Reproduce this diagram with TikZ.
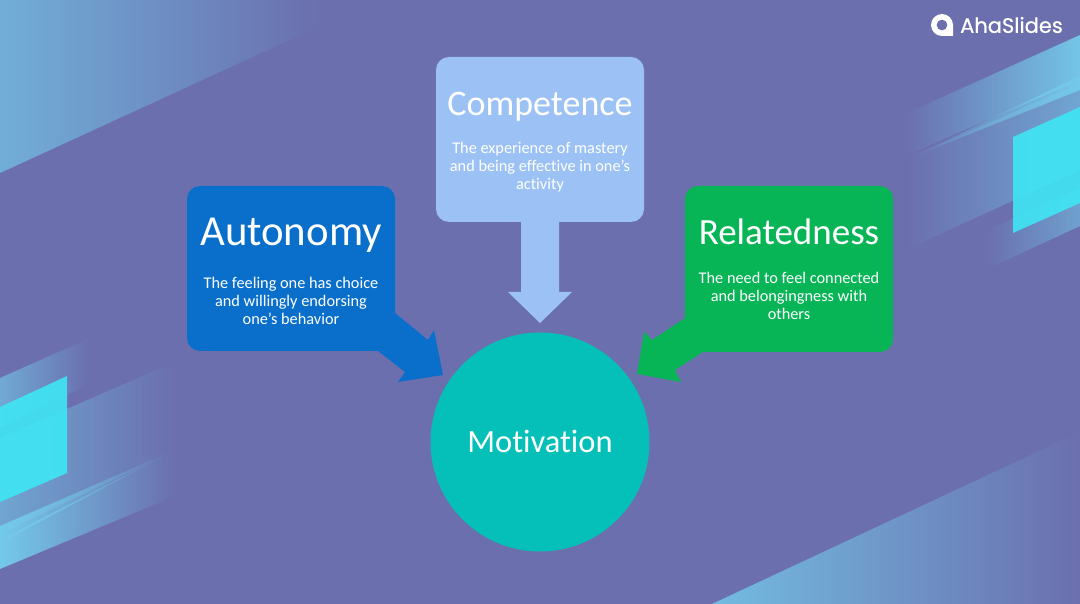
\documentclass[tikz,border=0pt]{standalone}
\usepackage{fontspec}
\setmainfont[Ligatures=NoCommon]{Carlito}
\newfontfamily\logofont[FakeBold=0.5]{Poppins}
\usetikzlibrary{fadings}
\definecolor{bgc}{HTML}{6B6FAE}
\definecolor{autoc}{HTML}{0A6FCB}
\definecolor{compc}{HTML}{9CC2F5}
\definecolor{relc}{HTML}{08B556}
\definecolor{motc}{HTML}{05C0B8}
\definecolor{cyanc}{HTML}{3FE6F5}
\definecolor{bandc}{HTML}{74CAEA}
\tikzset{
  bandE/.style={fill=bandc,path fading=east},
  bandW/.style={fill=bandc,path fading=west},
  title/.style={text=white,font=\fontsize{#1}{44}\selectfont,anchor=center},
  desc/.style={text=white,font=\fontsize{16.3}{18}\selectfont,align=center,anchor=center},
}
\begin{document}
\begin{tikzpicture}[x=1pt,y=-1pt]
\useasboundingbox (0,0) rectangle (1080,604);
\fill[bgc] (0,0) rectangle (1080,604);
% decorative bands
\fill[bandE,opacity=.7] (0,0) -- (320,0) -- (320,26) -- (0,173) -- cycle;
\fill[bandW,opacity=.95] (1080,35) -- (905,114) -- (905,156) -- (1080,80) -- cycle;
\fill[bandW,opacity=.6] (1080,83) -- (905,160) -- (905,250) -- (1080,170) -- cycle;
\fill[bandW,opacity=1] (1080,76) -- (1080,90) -- (905,160) -- cycle;
\fill[bandW,opacity=.55] (1080,188) -- (985,231) -- (985,270) -- (1080,226) -- cycle;
\fill[cyanc,opacity=.9] (1013,137) -- (1080,107) -- (1080,203) -- (1013,233) -- cycle;
\fill[bandE,opacity=.65] (0,378) -- (90,338) -- (90,384) -- (0,427) -- cycle;
\fill[bandE,opacity=.6] (0,438) -- (175,362) -- (175,450) -- (0,534) -- cycle;
\fill[bandE,opacity=1] (0,540) -- (175,450) -- (175,496) -- (0,569) -- cycle;
\fill[bandE,opacity=1] (0,526) -- (0,543) -- (175,450) -- cycle;
\fill[cyanc,opacity=.9] (0,407) -- (67,376) -- (67,473) -- (0,502) -- cycle;
\fill[bandE,opacity=.85] (712,604) -- (1080,432) -- (1080,604) -- cycle;
% shapes
\fill[autoc,rounded corners=13pt] (187,186) -- (395,186) -- (395,351) -- (187,351) -- cycle;
\fill[autoc] (370,330) -- (395,313) -- (428,340) -- (434,330) -- (443,375) -- (398,382) -- (405,372) -- (378,351) -- cycle;
\fill[compc,rounded corners=13pt] (436,57) -- (644,57) -- (644,222) -- (436,222) -- cycle;
\fill[compc] (521,215) -- (559,215) -- (559,292) -- (572,292) -- (540,323) -- (508,292) -- (521,292) -- cycle;
\fill[relc,rounded corners=13pt] (685,186) -- (893,186) -- (893,352) -- (685,352) -- cycle;
\fill[relc] (710,330) -- (685,318) -- (652,340) -- (644,332) -- (637,374) -- (681,382) -- (675,370) -- (703,352) -- cycle;
\node[circle,fill=motc,minimum size=219pt,inner sep=0pt] (mot) at (540,442) {};
% text
\node[title=42.8] (ta) at (291,235) {Autonomy};
\node[desc] (da) at (291,301) {The feeling one has choice\\and willingly endorsing\\one’s behavior};
\node[title=36] (tc) at (540,107) {Competence};
\node[desc] (dc) at (540,167) {The experience of mastery\\and being effective in one’s\\activity};
\node[title=37] (tr) at (789,232) {Relatedness};
\node[desc] (dr) at (789,296) {The need to feel connected\\and belongingness with\\others};
\node[text=white,font=\fontsize{32.5}{36}\selectfont] (tm) at (540,441) {Motivation};
% logo
\fill[white,even odd rule] (942,14) .. controls (948,14) and (953,19) .. (953,25) -- (953,36) -- (942,36) .. controls (936,36) and (931,31) .. (931,25) .. controls (931,19) and (936,14) .. (942,14) -- cycle (942,19.5) .. controls (939,19.5) and (936.5,22) .. (936.5,25) .. controls (936.5,28) and (939,30.5) .. (942,30.5) .. controls (945,30.5) and (947.5,28) .. (947.5,25) .. controls (947.5,22) and (945,19.5) .. (942,19.5) -- cycle;
\node[text=white,font=\logofont\fontsize{21}{24}\selectfont,anchor=west,inner sep=0pt] (logo) at (960,25) {AhaSlides};
\end{tikzpicture}
\end{document}
